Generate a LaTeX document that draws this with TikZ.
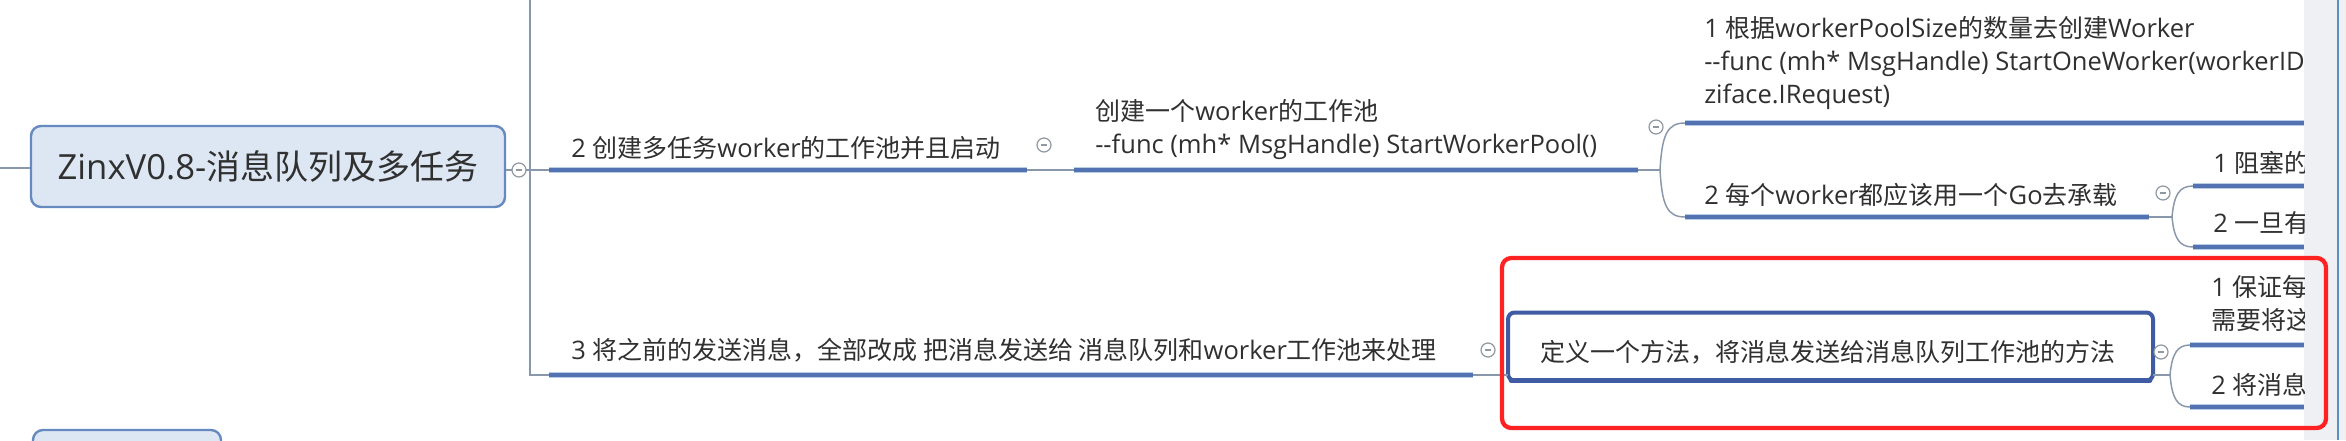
\documentclass[tikz,border=0pt]{standalone}
\usepackage{fontspec}
\setmainfont{Open Sans}[Scale=1.02,Ligatures=TeXOff]
\newfontfamily\cjkf{Noto Sans CJK SC}
\newcommand\zh[1]{{\cjkf #1}}
\definecolor{rootfill}{HTML}{DDE7F3}
\definecolor{rootborder}{HTML}{6689BF}
\definecolor{ulcol}{HTML}{5272B2}
\definecolor{ulhalo}{HTML}{B8CDE6}
\definecolor{conncol}{HTML}{8898AA}
\definecolor{foldcol}{HTML}{9098A0}
\definecolor{txtcol}{HTML}{303030}
\definecolor{boldcol}{HTML}{3E5BA3}
\definecolor{redcol}{HTML}{FF2222}
\definecolor{stripcol}{HTML}{EEF0F3}
\definecolor{bluebar}{HTML}{5D8FC7}
\begin{document}
\begin{tikzpicture}[x=0.75pt,y=-0.75pt,
  conn/.style={draw=conncol,line width=1.1pt},
  uline/.style={draw=ulcol,line width=2.6pt,preaction={draw=ulhalo,line width=4pt}},
  txt/.style={anchor=west,inner sep=0pt,text=txtcol,font=\fontsize{18.75pt}{24.75pt}\selectfont,align=left},
  fold/.style={circle,draw=foldcol,fill=white,line width=0.9pt,minimum size=10.5pt,inner sep=0pt,
    path picture={\draw[foldcol,line width=0.9pt] ([xshift=-2.6pt]path picture bounding box.center) -- ([xshift=2.6pt]path picture bounding box.center);}},
  rootbox/.style={draw=rootborder,fill=rootfill,line width=1.8pt,rounded corners=7.5pt,inner sep=0pt,text=txtcol,font=\fontsize{25.5pt}{30pt}\selectfont},
  boldbox/.style={draw=boldcol,fill=white,line width=3pt,rounded corners=5pt,inner sep=0pt},
  redframe/.style={draw=redcol,line width=3.2pt,rounded corners=7pt,inner sep=0pt}
]
\useasboundingbox (0,0) rectangle (2346,440);
\fill[white] (0,0) rectangle (2346,440);
% right strip
\fill[stripcol] (2304,0) rectangle (2346,440);
\draw[bluebar,line width=1.5pt] (2338,0) -- (2338,440);

\begin{scope}
\clip (0,0) rectangle (2346,440);
% bottom-left box (cut)
\node[rootbox,minimum width=141pt,minimum height=30pt] (nextroot) at (127,450) {};
\end{scope}

% root
\node[rootbox,minimum width=355.5pt,minimum height=60.75pt] (root) at (268,166.5) {ZinxV0.8-\zh{消息队列及多任务}};
\coordinate (inL) at (0,168);
\draw[conn] (inL) -- (root.west |- inL);

% trunk
\coordinate (trTop) at (530,0);
\coordinate (j2) at (530,170);
\coordinate (j3b) at (530,375);
\coordinate (b2L) at (549,170);
\coordinate (b2R) at (1027,170);
\coordinate (b3L) at (549,375);
\coordinate (b3R) at (1473,375);
\draw[conn] (trTop) -- (j3b) -- (b3L);
\draw[conn] (root.east |- j2) -- (b2L);
\node[fold] (f0) at (519,170) {};

% branch 2
\draw[uline] (b2L) -- (b2R);
\node[txt] (b2) at (571,148) {2 \zh{创建多任务}worker\zh{的工作池并且启动}};
\node[fold] (f2) at (1044,145) {};
\coordinate (n2L) at (1074,170);
\coordinate (n2R) at (1638,170);
\draw[conn] (b2R) -- (n2L);
\draw[uline] (n2L) -- (n2R);
\node[txt] (n2) at (1095,130) {\zh{创建一个}worker\zh{的工作池}\\--func (mh* MsgHandle) StartWorkerPool()};
\node[fold] (f3) at (1656,127) {};
\coordinate (j3) at (1660,170);
\coordinate (t1L) at (1685,123);
\coordinate (t1R) at (2304,123);
\coordinate (t2L) at (1685,217);
\coordinate (t2R) at (2149,217);
\draw[conn] (n2R) -- (j3);
\draw[conn] (j3) .. controls (1662,135) and (1667,123) .. (t1L);
\draw[conn] (j3) .. controls (1662,205) and (1667,217) .. (t2L);
\draw[uline] (t1L) -- (t1R);
\draw[uline] (t2L) -- (t2R);
\node[txt] (t2) at (1704,195) {2 \zh{每个}worker\zh{都应该用一个}Go\zh{去承载}};
\node[fold] (f4) at (2163,193) {};
\coordinate (j4) at (2172,217);
\coordinate (u1L) at (2193,186);
\coordinate (u1R) at (2304,186);
\coordinate (u2L) at (2193,247);
\coordinate (u2R) at (2304,247);
\draw[conn] (t2R) -- (j4);
\draw[conn] (j4) .. controls (2174,195) and (2179,186) .. (u1L);
\draw[conn] (j4) .. controls (2174,238) and (2179,247) .. (u2L);
\draw[uline] (u1L) -- (u1R);
\draw[uline] (u2L) -- (u2R);

% branch 3
\draw[uline] (b3L) -- (b3R);
\node[txt] (b3) at (571,350) {3 \zh{将之前的发送消息，全部改成 把消息发送给 消息队列和}worker\zh{工作池来处理}};
\node[fold] (f5) at (1488,350) {};
\node[boldbox,minimum width=483.75pt,minimum height=51pt] (m) at (1830.5,346.5) {};
\draw[boldcol,line width=4pt,line cap=round] ([xshift=4pt,yshift=1.5pt]m.south west) -- ([xshift=-4pt,yshift=1.5pt]m.south east);
\node[txt] (mt) at (1540,352) {\zh{定义一个方法，将消息发送给消息队列工作池的方法}};
\coordinate (mL) at (1508,375);
\draw[conn] (b3R) -- (mL);
\coordinate (mR) at (2153,375);
\coordinate (j6) at (2170,375);
\coordinate (v1L) at (2190,345);
\coordinate (v1R) at (2304,345);
\coordinate (v2L) at (2190,407);
\coordinate (v2R) at (2304,407);
\draw[conn] (mR) -- (j6);
\draw[conn] (j6) .. controls (2172,354) and (2177,345) .. (v1L);
\draw[conn] (j6) .. controls (2172,398) and (2177,407) .. (v2L);
\draw[uline] (v1L) -- (v1R);
\draw[uline] (v2L) -- (v2R);
\node[fold] (f6) at (2161,352) {};

% clipped texts at the right edge
\begin{scope}
\clip (0,0) rectangle (2304,440);
\node[txt] (t1) at (1704,63.5) {1 \zh{根据}workerPoolSize\zh{的数量去创建}Worker\\--func (mh* MsgHandle) StartOneWorker(workerID\\ziface.IRequest)};
\node[txt] (u1) at (2213,163) {1 \zh{阻塞的}};
\node[txt] (u2) at (2213,223) {2 \zh{一旦有}};
\node[txt] (v1) at (2211,303.5) {1 \zh{保证每}\\\zh{需要将这}};
\node[txt] (v2) at (2211,385) {2 \zh{将消息}};
\end{scope}

% red highlight frame
\node[redframe,minimum width=618pt,minimum height=127.5pt] (hl) at (1914,343) {};
\end{tikzpicture}
\end{document}
